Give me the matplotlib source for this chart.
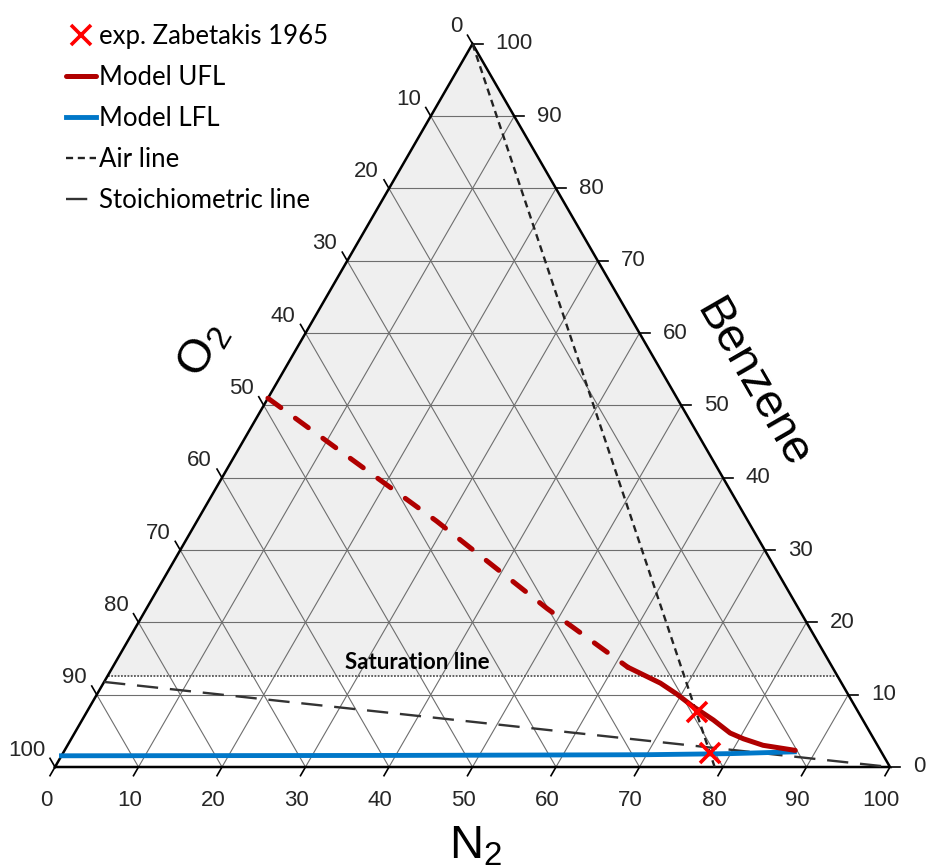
import numpy as np
import matplotlib
matplotlib.use("Agg")
import matplotlib.pyplot as plt

plt.rcParams["mathtext.default"] = "regular"

# ternary data: N2 (bottom axis) and benzene (right axis), O2 = 100 - N2 - benzene
ufl_dash_n2 = [0.0, 14.0, 28.7, 48.0, 61.7]
ufl_dash_bz = [51.0, 42.7, 34.0, 21.9, 13.8]
ufl_n2 = [61.7, 64.2, 66.7, 69.4, 72.0, 75.6, 78.5, 80.5, 83.3, 87.5]
ufl_bz = [13.8, 12.7, 11.6, 10.1, 8.5, 6.5, 4.7, 3.9, 3.0, 2.3]
lfl_n2 = [0.0, 40.0, 70.0, 80.0, 87.5]
lfl_bz = [1.55, 1.6, 1.7, 1.85, 2.1]
exp_n2 = [73.1, 77.5]
exp_bz = [7.6, 1.9]
air_n2 = [0.0, 79.0]
air_bz = [100.0, 0.0]
stoich_n2 = [0.0, 100.0]
stoich_bz = [100 / 8.5, 0.0]
sat_bz = 12.6
ticks = list(range(0, 101, 10))

S3 = np.sqrt(3) / 2


def tern(n2, bz):
    n2 = np.asarray(n2, float)
    bz = np.asarray(bz, float)
    return n2 + bz / 2, bz * S3


fig = plt.figure(figsize=(9.27, 8.68), dpi=100)
ax = fig.add_axes([0, 0, 1, 1])
ax.set_xlim(-55 / 8.35, (927 - 55) / 8.35)
ax.set_ylim((767 - 868) / 8.35, 767 / 8.35)
ax.axis("off")

# shaded region above the saturation line
xs, ys = tern([0, 100 - sat_bz, 0], [sat_bz, sat_bz, 100])
ax.fill(xs, ys, color="#efefef", lw=0, zorder=0)

GRID = "#6e6e6e"
for t in ticks[1:-1]:
    # benzene = const (horizontal)
    x, y = tern([0, 100 - t], [t, t])
    ax.plot(x, y, color=GRID, lw=0.8, zorder=1)
    # N2 = const
    x, y = tern([t, t], [0, 100 - t])
    ax.plot(x, y, color=GRID, lw=0.8, zorder=1)
    # O2 = const
    x, y = tern([0, 100 - t], [100 - t, 0])
    ax.plot(x, y, color=GRID, lw=0.8, zorder=1)

# saturation line
x, y = tern([0, 100 - sat_bz], [sat_bz, sat_bz])
ax.plot(x, y, color="#555555", lw=1.3, ls=(0, (1, 0.8)), zorder=2)
ax.annotate("Saturation line", (50 - sat_bz / 2, sat_bz * S3), xytext=(-75, 3),
            textcoords="offset pixels", ha="left", va="bottom",
            fontsize=16, fontweight="bold", family="Lato", zorder=6)

# triangle border
x, y = tern([0, 100, 0, 0], [0, 0, 100, 0])
ax.plot(x, y, color="black", lw=1.8, zorder=4, solid_joinstyle="miter")

# ticks and tick labels
tl = 1.2
lab = dict(fontsize=16, family="Liberation Sans", color="#262626",
           textcoords="offset pixels")
for t in ticks:
    # bottom: N2
    x0, y0 = tern(t, 0)
    ax.plot([x0, x0 - 0.5 * tl], [y0, y0 - S3 * tl], color="black", lw=1.2, zorder=4)
    ax.annotate(str(t), (x0, y0), xytext=(-9, -34), ha="center", va="center", **lab)
    # right: benzene
    x0, y0 = tern(100 - t, t)
    ax.plot([x0, x0 + tl], [y0, y0], color="black", lw=1.2, zorder=4)
    ax.annotate(str(t), (x0, y0), xytext=(23, 0), ha="left", va="center", **lab)
    # left: O2
    x0, y0 = tern(0, 100 - t)
    ax.plot([x0, x0 - 0.5 * tl], [y0, y0 + S3 * tl], color="black", lw=1.2, zorder=4)
    ax.annotate(str(t), (x0, y0), xytext=(-10, 17), ha="right", va="center", **lab)

# air and stoichiometric lines
x, y = tern(air_n2, air_bz)
ax.plot(x, y, color="#222222", lw=1.7, ls=(0, (3, 2)), zorder=5, label="Air line")
x, y = tern(stoich_n2, stoich_bz)
ax.plot(x, y, color="#333333", lw=1.7, ls=(0, (9, 5)), zorder=5, label="Stoichiometric line")

# model curves
RED = "#b00000"
x, y = tern(ufl_dash_n2, ufl_dash_bz)
ax.plot(x, y, color=RED, lw=3.6, ls=(0, (3.2, 3.6)), dash_capstyle="round", zorder=6)
x, y = tern(ufl_n2, ufl_bz)
ufl, = ax.plot(x, y, color=RED, lw=3.6, solid_capstyle="round", solid_joinstyle="round",
               zorder=7, label="Model UFL")
x, y = tern(lfl_n2, lfl_bz)
lfl, = ax.plot(x, y, color="#0077c8", lw=3.5, zorder=6, label="Model LFL")
x, y = tern(exp_n2, exp_bz)
exp, = ax.plot(x, y, ls="none", marker="x", ms=14, mew=2.6, color="#ff0000", zorder=8,
               label="exp. Zabetakis 1965")

h, l = ax.get_legend_handles_labels()
order = ["exp. Zabetakis 1965", "Model UFL", "Model LFL", "Air line", "Stoichiometric line"]
hl = dict(zip(l, h))
leg = ax.legend([hl[k] for k in order], order, loc="upper left",
                bbox_to_anchor=(66 / 927, 1 - 24 / 868), frameon=False,
                prop={"family": "Lato", "size": 18.5}, handlelength=1.15,
                handletextpad=0.12, labelspacing=0.62, borderpad=0, borderaxespad=0)

# axis titles
ax.text(*tern(-11, 57.6), "O$_2$", rotation=60, fontsize=34, family="Liberation Sans",
        ha="center", va="center")
ax.text(*tern(57, 53), "Benzene", rotation=-60, fontsize=34, family="Liberation Sans",
        ha="center", va="center")
ax.annotate("N$_2$", (50, 0), xytext=(3, -80), textcoords="offset pixels",
            fontsize=34, family="Liberation Sans", ha="center", va="center")

fig.savefig("out.png", dpi=100)
